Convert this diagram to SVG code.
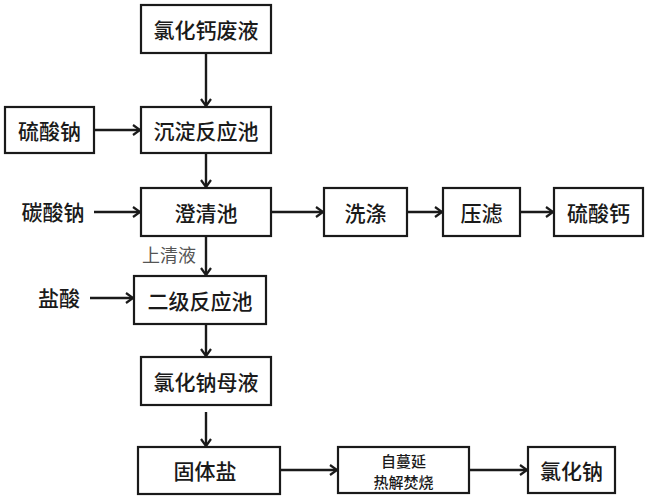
<svg xmlns="http://www.w3.org/2000/svg" width="650" height="500" viewBox="0 0 650 500">
<defs>
<style>
.box{fill:#fff;stroke:#1a1a1a;stroke-width:2.2}
.t{font-family:"Noto Sans CJK SC","Noto Sans",sans-serif;font-size:21px;font-weight:500;fill:#1a1a1a;text-anchor:middle;dominant-baseline:central}
.s{font-size:15px}
.g{font-size:18px;font-weight:400;fill:#555}
.c{stroke:#1a1a1a;stroke-width:2.4;fill:none;marker-end:url(#ah)}
</style>
<marker id="ah" markerWidth="12" markerHeight="12" refX="9" refY="6" orient="auto" markerUnits="userSpaceOnUse">
<path d="M2,1 L9,6 L2,11" fill="none" stroke="#1a1a1a" stroke-width="2.2"/>
</marker>
</defs>
<rect width="650" height="500" fill="#fff"/>
<g id="connectors">
<path class="c" d="M206,53 V106"/>
<path class="c" d="M94,130 H140"/>
<path class="c" d="M206,153 V187"/>
<path class="c" d="M94,212 H140"/>
<path class="c" d="M271,212 H323"/>
<path class="c" d="M407,212 H442"/>
<path class="c" d="M520,212 H553"/>
<path class="c" d="M206,236 V275"/>
<path class="c" d="M90,298 H133"/>
<path class="c" d="M206,324 V356"/>
<path class="c" d="M206,412 V446"/>
<path class="c" d="M280,470 H337"/>
<path class="c" d="M469,470 H527"/>
<text class="t g" x="169" y="254">上清液</text>
</g>
<g id="n1"><rect class="box" x="141" y="5" width="130" height="48"/><text class="t" x="206" y="29">氯化钙废液</text></g>
<g id="n2"><rect class="box" x="5" y="107" width="89" height="46"/><text class="t" x="49.5" y="130">硫酸钠</text></g>
<g id="n3"><rect class="box" x="141" y="107" width="130" height="46"/><text class="t" x="206" y="130">沉淀反应池</text></g>
<g id="n4"><text class="t" x="53" y="211">碳酸钠</text></g>
<g id="n5"><rect class="box" x="141" y="188" width="130" height="48"/><text class="t" x="206" y="212">澄清池</text></g>
<g id="n6"><rect class="box" x="324" y="188" width="83" height="48"/><text class="t" x="365.5" y="212">洗涤</text></g>
<g id="n7"><rect class="box" x="443" y="188" width="77" height="48"/><text class="t" x="481.5" y="212">压滤</text></g>
<g id="n8"><rect class="box" x="554" y="188" width="89" height="48"/><text class="t" x="598.5" y="212">硫酸钙</text></g>
<g id="n9"><text class="t" x="59" y="297">盐酸</text></g>
<g id="n10"><rect class="box" x="134" y="276" width="132" height="48"/><text class="t" x="200" y="300">二级反应池</text></g>
<g id="n11"><rect class="box" x="141" y="357" width="130" height="48"/><text class="t" x="206" y="381">氯化钠母液</text></g>
<g id="n12"><rect class="box" x="138" y="447" width="142" height="47"/><text class="t" x="205" y="470">固体盐</text></g>
<g id="n13"><rect class="box" x="338" y="447" width="131" height="46"/><text class="t s" x="403.5" y="460">自蔓延</text><text class="t s" x="403.5" y="481">热解焚烧</text></g>
<g id="n14"><rect class="box" x="528" y="447" width="87" height="46"/><text class="t" x="571.5" y="470">氯化钠</text></g>
</svg>
